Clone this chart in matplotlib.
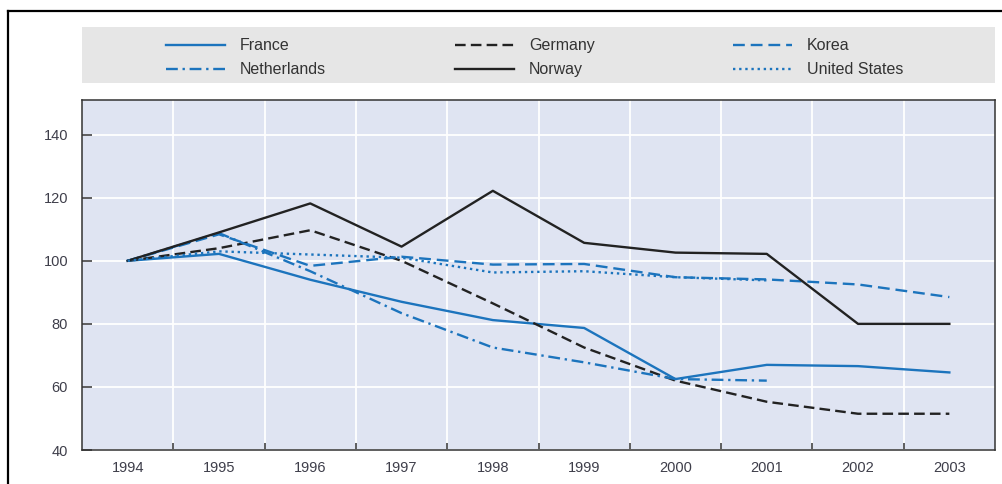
import numpy as np
import matplotlib

matplotlib.use("Agg")

from matplotlib import pyplot as plt  # noqa: E402
from matplotlib.lines import Line2D  # noqa: E402
from matplotlib.patches import Rectangle  # noqa: E402

plt.rcParams["font.family"] = ["Liberation Sans Narrow", "Liberation Sans", "DejaVu Sans"]

years = ["1994", "1995", "1996", "1997", "1998", "1999", "2000", "2001", "2002", "2003"]
france = [100, 102.2, 94, 87, 81.2, 78.7, 62.5, 67, 66.6, 64.6]
germany = [100, 104, 109.7, 100, 86.5, 72.5, 62, 55.3, 51.5, 51.5]
korea = [100, 108.4, 98.4, 101.3, 98.8, 99, 94.8, 94.1, 92.5, 88.5]
netherlands = [100, 108.8, 96.7, 83.4, 72.5, 67.8, 62.5, 62, np.nan, np.nan]
norway = [100, 109, 118.2, 104.5, 122.2, 105.7, 102.6, 102.2, 80, 80]
united_states = [100, 103, 102, 101, 96.3, 96.7, 94.8, 93.8, np.nan, np.nan]

BLUE = "#1c74bd"
BLACK = "#222222"
TEXT = "#3e3e4a"

fig = plt.figure(figsize=(10.03, 4.84), dpi=100)
ax = fig.add_axes([82 / 1003, 1 - 450 / 484, (995 - 82) / 1003, (450 - 100) / 484])
ax.set_facecolor("#dfe4f2")

x = np.arange(len(years))
series = [
    ("France", france, BLUE, "-"),
    ("Germany", germany, BLACK, (0, (4.5, 2.2))),
    ("Korea", korea, BLUE, (0, (5, 2.5))),
    ("Netherlands", netherlands, BLUE, (0, (5, 2, 1, 2))),
    ("Norway", norway, BLACK, "-"),
    ("United States", united_states, BLUE, (0, (1, 1.6))),
]
handles = []
for name, values, color, style in series:
    (line,) = ax.plot(x, values, color=color, linestyle=style, linewidth=1.7, label=name)
    handles.append(line)

ax.set_xlim(-0.5, 9.5)
ax.set_ylim(40, 151)
ax.set_yticks([40, 60, 80, 100, 120, 140])
ax.set_xticks(x)
ax.set_xticklabels(years)
ax.set_xticks(x[:-1] + 0.5, minor=True)
ax.tick_params(axis="x", which="major", length=0, pad=8, labelsize=10.5, labelcolor=TEXT)
ax.tick_params(axis="x", which="minor", direction="in", length=5, width=1.1, color="#333333")
ax.tick_params(axis="y", direction="in", length=7, width=1.1, color="#333333", pad=10,
               labelsize=10.5, labelcolor=TEXT)
ax.grid(True, axis="y", which="major", color="white", linewidth=1.3)
ax.grid(True, axis="x", which="minor", color="white", linewidth=1.3)
ax.set_axisbelow(True)
for spine in ax.spines.values():
    spine.set_color("#333333")
    spine.set_linewidth(1.1)

# grey legend band above the plot
fig.patches.append(Rectangle((82 / 1003, 1 - 83 / 484), (995 - 82) / 1003, 56 / 484,
                             transform=fig.transFigure, facecolor="#e6e6e6",
                             edgecolor="none", zorder=0))
legend_x = [163, 452, 730]
for col in range(3):
    pair = [handles[col], handles[col + 3]]
    fig.legend(pair, [h.get_label() for h in pair], loc="upper left",
               bbox_to_anchor=(legend_x[col] / 1003 - 0.011, 1 - 24 / 484),
               frameon=False, fontsize=11.5, handlelength=3.7, handletextpad=0.9,
               labelspacing=0.55, labelcolor="#333333", borderpad=0.4)

# outer frame (left and top edges visible)
fig.add_artist(Line2D([8 / 1003, 8 / 1003], [0, 1 - 11 / 484], transform=fig.transFigure,
                      color="black", linewidth=1.6))
fig.add_artist(Line2D([8 / 1003, 1], [1 - 11 / 484, 1 - 11 / 484], transform=fig.transFigure,
                      color="black", linewidth=1.6))

fig.savefig("out.png", dpi=100)
